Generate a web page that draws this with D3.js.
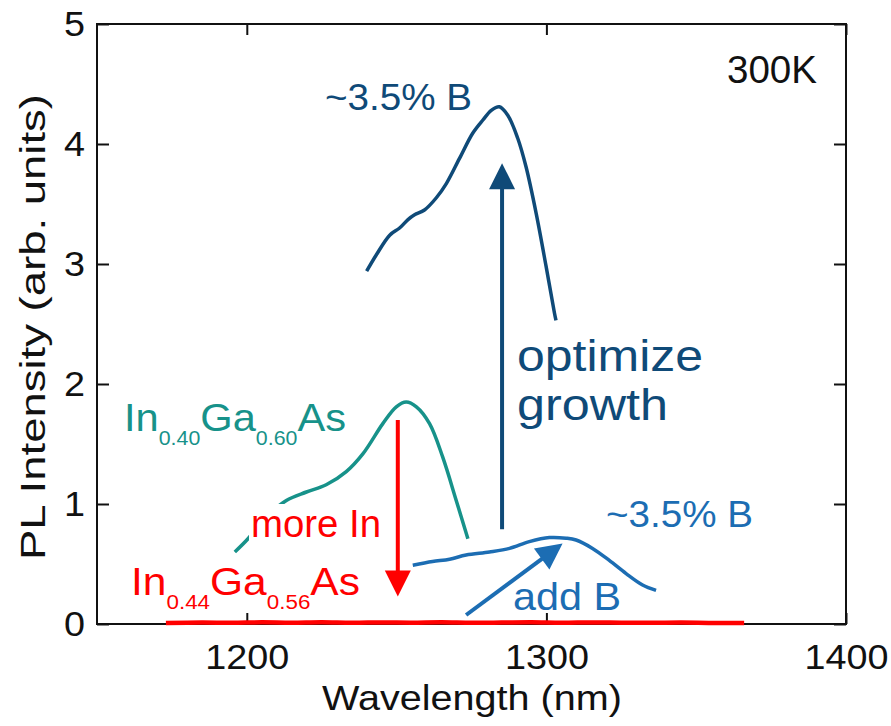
<!DOCTYPE html>
<html>
<head>
<meta charset="utf-8">
<script src="https://cdn.jsdelivr.net/npm/d3@7"></script>
<style>
  html, body { margin: 0; padding: 0; background: #fff; }
  svg { display: block; font-family: "Liberation Sans", Arial, sans-serif; }
</style>
</head>
<body>
<svg width="891" height="726"></svg>
<script>
const width = 891;
const height = 726;

// optimized growth, ~3.5% B (dark blue)
const optWavelength = [1240, 1243.2, 1247.7, 1251, 1253.8, 1256, 1259.3, 1263.2, 1266.6, 1271, 1275.4, 1278.8, 1281.6, 1284.3, 1287.1, 1290.4, 1293.2, 1296.6, 1299.9, 1302.7, 1303.2];
const optIntensity  = [2.94, 3.075, 3.24, 3.30, 3.37, 3.41, 3.45, 3.55, 3.67, 3.88, 4.09, 4.20, 4.28, 4.31, 4.24, 4.05, 3.81, 3.42, 2.98, 2.59, 2.53];

// In0.40Ga0.60As (teal)
const in40Wavelength = [1196, 1200.4, 1206, 1213.2, 1219.9, 1226.5, 1233.2, 1238.8, 1245.4, 1249.9, 1253.2, 1256.6, 1261, 1265.4, 1269.9, 1273.8];
const in40Intensity  = [0.60, 0.71, 0.88, 1.03, 1.10, 1.16, 1.27, 1.42, 1.67, 1.81, 1.85, 1.81, 1.67, 1.39, 1.03, 0.71];

// first B sample, ~3.5% B (blue)
const addBWavelength = [1255.4, 1262, 1267.7, 1273.2, 1281, 1287.7, 1294.3, 1301, 1306.6, 1309.9, 1315.4, 1321, 1326.6, 1332.1, 1336.6];
const addBIntensity  = [0.49, 0.52, 0.54, 0.575, 0.60, 0.63, 0.686, 0.72, 0.715, 0.70, 0.63, 0.53, 0.42, 0.325, 0.28];

// In0.44Ga0.56As (red, almost zero)
const in44Wavelength = [1173, 1185, 1195, 1205, 1215, 1225, 1235, 1245, 1255, 1265, 1275, 1285, 1295, 1305, 1315, 1325, 1335, 1345, 1355, 1366];
const in44Intensity  = [0.008, 0.012, 0.010, 0.014, 0.011, 0.015, 0.010, 0.013, 0.011, 0.014, 0.010, 0.012, 0.015, 0.010, 0.013, 0.011, 0.010, 0.012, 0.009, 0.008];

const xTicks = [1200, 1300, 1400];
const yTicks = [0, 1, 2, 3, 4, 5];

const navy = "#0f4a78";
const teal = "#17928a";
const blue = "#1c6db3";
const red = "#ff0000";

const series = [
  {name: "In0.44Ga0.56As", xs: in44Wavelength, ys: in44Intensity, color: red, w: 4.5},
  {name: "In0.40Ga0.60As", xs: in40Wavelength, ys: in40Intensity, color: teal, w: 3.5},
  {name: "add B", xs: addBWavelength, ys: addBIntensity, color: blue, w: 3.5},
  {name: "optimized", xs: optWavelength, ys: optIntensity, color: navy, w: 3.5}
];

// arrows: [x0, y0] -> [x1, y1] in data units, tip at the end
const arrows = [
  {from: [1285.2, 0.79], to: [1285.2, 3.84], color: navy},
  {from: [1250.4, 1.70], to: [1250.4, 0.23], color: red},
  {from: [1273.2, 0.075], to: [1305.4, 0.67], color: blue}
];

const x = d3.scaleLinear().domain([1150, 1400]).range([97, 846]);
const y = d3.scaleLinear().domain([0, 5]).range([624, 24]);

const svg = d3.select('svg');

// frame
svg.append('rect')
  .attr('x', x(1150)).attr('y', y(5))
  .attr('width', x(1400) - x(1150)).attr('height', y(0) - y(5))
  .attr('fill', 'none').attr('stroke', '#111').attr('stroke-width', 2);

const fs = 35;

svg.append('g')
  .attr('transform', `translate(0,${y(0)})`)
  .call(d3.axisBottom(x).tickValues(xTicks).tickFormat(d3.format('d'))
    .tickSizeInner(-11).tickSizeOuter(0).tickPadding(20))
  .selectAll('text').attr('textLength', 84).attr('lengthAdjust', 'spacingAndGlyphs');
svg.append('g')
  .attr('transform', `translate(${x(1150)},0)`)
  .call(d3.axisLeft(y).tickValues(yTicks).tickFormat(d3.format('d'))
    .tickSizeInner(-12).tickSizeOuter(0).tickPadding(12))
  .selectAll('text').attr('textLength', 21).attr('lengthAdjust', 'spacingAndGlyphs');
// mirrored ticks on top and right
svg.append('g')
  .attr('transform', `translate(0,${y(5)})`)
  .call(d3.axisTop(x).tickValues(xTicks).tickSizeInner(-11).tickSizeOuter(0).tickFormat(''));
svg.append('g')
  .attr('transform', `translate(${x(1400)},0)`)
  .call(d3.axisRight(y).tickValues(yTicks).tickSizeInner(-12).tickSizeOuter(0).tickFormat(''));

svg.selectAll('.domain').remove();
svg.selectAll('.tick line').attr('stroke', '#111').attr('stroke-width', 2);
svg.selectAll('.tick text').attr('font-size', fs).attr('fill', '#111')
  .attr('font-family', '"Liberation Sans", Arial, sans-serif');

svg.append('text')
  .attr('x', 322).attr('y', 710)
  .attr('font-size', fs).attr('fill', '#111')
  .attr('textLength', 300).attr('lengthAdjust', 'spacingAndGlyphs')
  .text('Wavelength (nm)');
svg.append('text')
  .attr('transform', `translate(45,560) rotate(-90)`)
  .attr('font-size', fs).attr('fill', '#111')
  .attr('textLength', 466).attr('lengthAdjust', 'spacingAndGlyphs')
  .text('PL Intensity (arb. units)');

// curves
const line = d3.line().curve(d3.curveCatmullRom.alpha(0.5));
svg.append('g').selectAll('path.curve')
  .data(series)
  .join('path')
  .classed('curve', true)
  .attr('d', s => line(s.xs.map((v, i) => [x(v), y(s.ys[i])])))
  .attr('fill', 'none')
  .attr('stroke', s => s.color)
  .attr('stroke-width', s => s.w)
  .attr('stroke-linejoin', 'round');

// labels (some with white boxes behind them)
function label(parts, px, py, color, size, len, box) {
  const g = svg.append('g');
  const t = g.append('text')
    .attr('x', px).attr('y', py)
    .attr('font-size', size).attr('fill', color);
  parts.forEach(p => {
    if (p.sub) {
      t.append('tspan').attr('font-size', 20).attr('dy', 14).text(p.s);
    } else {
      t.append('tspan').attr('dy', p.after ? -14 : 0).text(p.s);
    }
  });
  if (len) t.attr('textLength', len).attr('lengthAdjust', 'spacingAndGlyphs');
  if (box) {
    const b = t.node().getBBox();
    g.insert('rect', 'text')
      .attr('x', b.x - 2).attr('y', b.y + 2)
      .attr('width', b.width + 4).attr('height', b.height - 2)
      .attr('fill', '#fff');
  }
  return g;
}

const chem = (a, b) => [{s: 'In'}, {s: a, sub: true}, {s: 'Ga', after: true}, {s: b, sub: true}, {s: 'As', after: true}];

label([{s: '~3.5% B'}], 325, 110, navy, 36, 147, true);
label([{s: 'optimize'}], 517, 371, navy, 45, 186, false);
label([{s: 'growth'}], 517, 420, navy, 45, 151, false);
label(chem('0.40', '0.60'), 124, 431, teal, 39, 222, false);
label([{s: 'more In'}], 251, 537, red, 39, 130, true);
label(chem('0.44', '0.56'), 131, 595, red, 38, 229, true);
label([{s: '~3.5% B'}], 606, 527, blue, 36, 147, false);
label([{s: 'add B'}], 513, 610, blue, 39, 108, false);
label([{s: '300K'}], 727, 83, '#111', 39, 90, false);

// arrows
const headLen = 26, headHalf = 13;
arrows.forEach(a => {
  const x0 = x(a.from[0]), y0 = y(a.from[1]);
  const x1 = x(a.to[0]), y1 = y(a.to[1]);
  const dx = x1 - x0, dy = y1 - y0, len = Math.hypot(dx, dy);
  const ux = dx / len, uy = dy / len;
  const bx = x1 - ux * headLen, by = y1 - uy * headLen;
  svg.append('line')
    .attr('x1', x0).attr('y1', y0).attr('x2', bx + ux * 2).attr('y2', by + uy * 2)
    .attr('stroke', a.color).attr('stroke-width', 4);
  svg.append('path')
    .attr('d', `M${x1},${y1}L${bx - uy * headHalf},${by + ux * headHalf}L${bx + uy * headHalf},${by - ux * headHalf}Z`)
    .attr('fill', a.color);
});
</script>
</body>
</html>
